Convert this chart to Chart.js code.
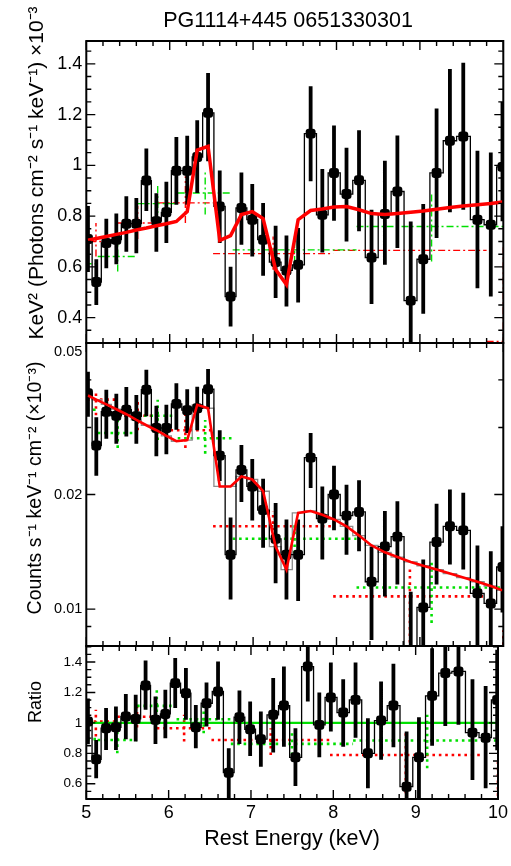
<!DOCTYPE html>
<html><head><meta charset="utf-8">
<script src="https://cdn.jsdelivr.net/npm/chart.js@4.4.0/dist/chart.umd.min.js"></script>
<style>
html,body{margin:0;padding:0;background:#fff;width:511px;height:866px;overflow:hidden;position:relative;}
canvas{position:absolute;left:0;}
</style></head><body>
<canvas id="c1" width="511" height="370" style="top:0px"></canvas>
<canvas id="c2" width="511" height="360" style="top:310px"></canvas>
<canvas id="c3" width="511" height="246" style="top:620px"></canvas>
<script>
// ---------- data ----------
const energy = [5.02,5.12,5.24,5.36,5.48,5.60,5.72,5.84,5.96,6.08,6.21,6.33,6.46,6.60,6.73,6.86,6.99,7.12,7.27,7.40,7.54,7.69,7.83,7.97,8.12,8.27,8.42,8.58,8.73,8.89,9.04,9.20,9.36,9.52,9.69,9.85,9.99];

const xTicks = [5,6,7,8,9,10];
const topYTicks = [0.4,0.6,0.8,1,1.2,1.4];
const midYTicks = [0.01,0.02,0.05];
const ratioYTicks = [0.6,0.8,1,1.2,1.4];

// top panel: unfolded E^2 f(E) (x1e-3)
const topVal = [0.71,0.54,0.694,0.707,0.77,0.77,0.94,0.78,0.815,0.979,0.979,1.033,1.207,0.838,0.483,0.832,0.786,0.707,0.619,0.586,0.608,1.125,0.805,0.97,0.887,0.941,0.637,0.808,0.897,0.467,0.63,0.97,1.097,1.114,0.786,0.766,0.994];
const topLo  = [0.58,0.45,0.595,0.61,0.66,0.654,0.82,0.66,0.694,0.845,0.845,0.891,1.016,0.694,0.365,0.687,0.641,0.565,0.477,0.444,0.46,0.937,0.657,0.782,0.70,0.74,0.454,0.608,0.674,0.25,0.415,0.714,0.815,0.825,0.516,0.483,0.78];
const topHi  = [0.84,0.63,0.79,0.81,0.878,0.871,1.066,0.89,0.935,1.112,1.117,1.178,1.364,0.98,0.60,0.972,0.927,0.852,0.762,0.724,0.753,1.312,0.986,1.157,1.069,1.138,0.825,1.018,1.118,0.779,0.848,1.224,1.38,1.404,1.058,1.051,1.25];
const topModel = [0.705,0.712,0.72,0.728,0.736,0.745,0.753,0.762,0.77,0.779,0.818,1.06,1.075,0.704,0.723,0.806,0.818,0.79,0.59,0.53,0.786,0.822,0.828,0.836,0.838,0.825,0.81,0.806,0.81,0.815,0.82,0.827,0.834,0.84,0.845,0.85,0.856];

// middle panel: counts
const midVal = [0.0369,0.0269,0.033,0.0322,0.0334,0.0321,0.0377,0.0299,0.0299,0.0346,0.0333,0.0337,0.0378,0.0253,0.0139,0.0232,0.021,0.0182,0.0153,0.0139,0.0139,0.025,0.0173,0.02,0.0176,0.018,0.0118,0.0146,0.0155,0.0076,0.0101,0.015,0.0165,0.0161,0.011,0.01035,0.0129];
const midLo  = [0.032,0.0224,0.028,0.0272,0.0284,0.0272,0.0321,0.0252,0.0255,0.0296,0.029,0.0295,0.0335,0.0217,0.0106,0.0191,0.0171,0.0145,0.0117,0.0106,0.0105,0.0208,0.0135,0.0161,0.0139,0.0142,0.0083,0.0108,0.0116,0.004,0.007,0.0116,0.0131,0.0127,0.0075,0.0068,0.0098];
const midHi  = [0.042,0.0319,0.0377,0.0368,0.0383,0.0365,0.0425,0.0342,0.0344,0.0392,0.0378,0.0384,0.0427,0.0295,0.0174,0.027,0.0248,0.022,0.019,0.0172,0.0172,0.029,0.021,0.0238,0.0212,0.0218,0.0146,0.0181,0.0192,0.0111,0.0135,0.0189,0.0206,0.0202,0.0147,0.0142,0.0165];
const midModel = [0.0364,0.0355,0.0345,0.0335,0.0325,0.0314,0.0304,0.0295,0.0285,0.0276,0.0278,0.0344,0.0337,0.021,0.021,0.0223,0.0219,0.0204,0.0146,0.0127,0.0179,0.0181,0.0177,0.0172,0.0165,0.0156,0.0147,0.0141,0.0137,0.0133,0.013,0.0127,0.0124,0.0121,0.0118,0.0115,0.0112];

// bottom panel: ratio
const ratioVal = [1.009,0.761,0.965,0.971,1.042,1.026,1.246,1.02,1.059,1.261,1.195,0.971,1.129,1.206,0.673,1.037,0.958,0.893,1.053,1.114,0.774,1.37,0.987,1.167,1.068,1.151,0.8,1.015,1.114,0.581,0.774,1.178,1.327,1.338,0.936,0.903,1.151];
const ratioLo  = [0.86,0.636,0.822,0.822,0.893,0.877,1.086,0.862,0.899,1.097,1.02,0.834,0.976,1.02,0.49,0.862,0.783,0.712,0.805,0.844,0.586,1.14,0.774,0.943,0.844,0.903,0.57,0.757,0.84,0.3,0.45,0.849,0.98,0.987,0.625,0.57,0.82];
const ratioHi  = [1.16,0.888,1.097,1.107,1.19,1.184,1.41,1.173,1.217,1.426,1.36,1.118,1.265,1.403,0.833,1.213,1.14,1.074,1.294,1.37,0.965,1.62,1.2,1.397,1.287,1.397,1.031,1.272,1.388,0.943,1.037,1.49,1.62,1.62,1.287,1.243,1.48];
const ratioUnity = [1, 1];

// second data set (green), broad bins
const greenEdges = [4.62,5.137,5.616,6.096,6.755,8.24,10.04];
const greenTop   = [0.612,0.641,0.849,0.891,0.667,0.759];
const greenTopLo = [0.55,0.582,0.773,0.806,0.615,0.621];
const greenTopHi = [0.68,0.70,0.93,0.976,0.733,0.891];
const greenMid   = [0.0334,0.029,0.0322,0.0281,0.0153,0.0114];
const greenMidLo = [0.030,0.0265,0.0278,0.0256,0.014,0.0092];
const greenMidHi = [0.037,0.0315,0.0355,0.0314,0.0166,0.0135];
const greenRatio   = [0.893,0.888,1.112,1.024,0.862,0.884];
const greenRatioLo = [0.80,0.80,0.987,0.932,0.789,0.702];
const greenRatioHi = [0.99,0.987,1.217,1.118,0.954,1.053];

// third data set (red), broad bins
const redEdges = [4.856,5.376,5.856,6.52,7.96,9.80,10.2];
const redTop   = [0.70,0.773,0.852,0.652,0.665,0.306];
const redTopLo = [0.641,0.71,0.773,0.589,0.25,0.0];
const redTopHi = [0.773,0.84,0.957,0.72,0.779,0.687];
const redMid   = [0.0355,0.0322,0.0295,0.0165,0.0108,0.004];
const redMidLo = [0.0323,0.0295,0.0265,0.0149,0.007,0.002];
const redMidHi = [0.0377,0.035,0.033,0.0181,0.013,0.0088];
const redRatio   = [1.009,1.04,0.965,0.888,0.789,0.36];
const redRatioLo = [0.91,0.97,0.877,0.789,0.537,0.1];
const redRatioHi = [1.086,1.11,1.053,0.965,0.943,0.745];

// ---------- helpers building library tables from the arrays ----------
const FONT = "'Liberation Sans', Arial, Helvetica, sans-serif";
const GREEN = '#00e000', RED = '#ff0000';

function segPairs(xa, xb, ya, yb) {
  const d = [];
  for (let i = 0; i < xa.length; i++) {
    d.push({x: xa[i], y: ya[i]}, {x: xb[i], y: yb[i]}, {x: xb[i], y: null});
  }
  return d;
}
function stepData(xc, v) {
  const d = [];
  for (let i = 0; i < xc.length; i++) {
    const lo = i === 0 ? xc[0] - (xc[1] - xc[0]) / 2 : (xc[i - 1] + xc[i]) / 2;
    const hi = i === xc.length - 1 ? xc[i] + (xc[i] - xc[i - 1]) / 2 : (xc[i] + xc[i + 1]) / 2;
    d.push({x: lo, y: v[i]}, {x: hi, y: v[i]});
  }
  return d;
}
const centers = e => e.slice(0, -1).map((v, i) => (v + e[i + 1]) / 2);
const crossH = (e, v) => segPairs(e.slice(0, -1), e.slice(1), v, v);
const crossV = (e, lo, hi) => { const c = centers(e); return segPairs(c, c, lo, hi); };
const errBars = (x, lo, hi) => segPairs(x, x, lo, hi);
const pts = (x, v) => x.map((e, i) => ({x: e, y: v[i]}));

function lineDS(data, color, width, dash, order) {
  return {data, showLine: true, borderColor: color, backgroundColor: color, borderWidth: width,
    borderDash: dash || [], pointRadius: 0, pointHoverRadius: 0, spanGaps: false, tension: 0,
    order, borderCapStyle: 'butt', borderJoinStyle: 'miter'};
}
function markerDS(data, order) {
  return {data, showLine: false, pointRadius: 5.8, pointHoverRadius: 5.8, pointStyle: 'rectRounded',
    pointBackgroundColor: '#000', pointBorderWidth: 0, borderColor: '#000', order};
}
function crossSets(edges, v, lo, hi, color, dash, w) {
  return [lineDS(crossH(edges, v), color, w, dash, 6), lineDS(crossV(edges, lo, hi), color, w, dash, 6)];
}

function linMinors(majors, min, max, sub) {
  const step = (majors[1] - majors[0]) / sub, out = [];
  for (let k = Math.ceil(min / step - 1e-6); k * step <= max + 1e-9; k++) {
    const v = k * step;
    if (!majors.some(m => Math.abs(m - v) < 1e-6)) out.push(v);
  }
  return out;
}
function logMinors(majors, min, max) {
  const out = [];
  for (let n = Math.floor(Math.log10(min)); n <= Math.ceil(Math.log10(max)); n++) {
    for (let k = 1; k < 10; k++) {
      const v = k * Math.pow(10, n);
      if (v >= min * 0.999 && v <= max * 1.001 && !majors.some(m => Math.abs(m - v) / m < 1e-6)) out.push(v);
    }
  }
  return out;
}

const framePlugin = {
  id: 'frame',
  afterDatasetsDraw(chart, args, o) {
    const {ctx, chartArea: a} = chart;
    const xs = chart.scales.x, ys = chart.scales.y;
    const MA = 9, MI = 5;
    ctx.save();
    ctx.strokeStyle = '#000';
    ctx.lineWidth = 1.4;
    ctx.beginPath();
    const xMin = linMinors(xTicks, xs.min, xs.max, 5);
    const tickX = (v, len) => { const p = xs.getPixelForValue(v); ctx.moveTo(p, a.top); ctx.lineTo(p, a.top + len); ctx.moveTo(p, a.bottom); ctx.lineTo(p, a.bottom - len); };
    xTicks.forEach(v => tickX(v, MA));
    xMin.forEach(v => tickX(v, MI));
    const yMaj = o.yTicks;
    const yMin = o.log ? logMinors(yMaj, ys.min, ys.max) : linMinors(yMaj, ys.min, ys.max, 4);
    const tickY = (v, len) => { const p = ys.getPixelForValue(v); ctx.moveTo(a.left, p); ctx.lineTo(a.left + len, p); ctx.moveTo(a.right, p); ctx.lineTo(a.right - len, p); };
    yMaj.forEach(v => tickY(v, MA));
    yMin.forEach(v => tickY(v, MI));
    ctx.stroke();
    ctx.lineWidth = 2;
    ctx.strokeRect(a.left, a.top, a.right - a.left, a.bottom - a.top);
    ctx.restore();
  }
};
const textPlugin = {
  id: 'texts',
  afterDraw(chart, args, o) {
    const ctx = chart.ctx;
    (o.items || []).forEach(t => {
      ctx.save();
      ctx.fillStyle = '#000';
      ctx.font = t.size + 'px ' + FONT;
      ctx.textAlign = 'center';
      ctx.textBaseline = 'middle';
      ctx.translate(t.x, t.y);
      if (t.rot) ctx.rotate(-Math.PI / 2);
      ctx.fillText(t.text, 0, 0);
      ctx.restore();
    });
  }
};

function yScale(type, min, max, ticksArr, size, shiftTop) {
  return {
    type, min, max,
    afterBuildTicks: s => { s.ticks = ticksArr.map(v => ({value: v})); },
    afterFit: s => { s.width = 86.3; },
    ticks: {font: {family: FONT, size}, color: '#000', padding: 4, autoSkip: false,
      callback: (v, i, t) => (shiftTop && i === t.length - 1) ? ['', String(v)] : String(v)},
    grid: {display: false, drawTicks: false},
    border: {display: false}
  };
}
const hiddenX = {type: 'linear', min: 5, max: 10, display: false};

function makeChart(id, datasets, y, x, pad, frameOpts, texts) {
  return new Chart(document.getElementById(id), {
    type: 'scatter',
    data: {datasets},
    options: {
      responsive: false, animation: false, devicePixelRatio: 1,
      layout: {padding: pad},
      scales: {x, y},
      plugins: {legend: {display: false}, tooltip: {enabled: false},
        frame: frameOpts, texts: {items: texts}}
    },
    plugins: [framePlugin, textPlugin]
  });
}

const DASHDOT = [7, 3, 2, 3];
const DOT = [2.6, 3.8];

// ---------- top panel (plot area 41..343) ----------
makeChart('c1', [
  lineDS(pts(energy, topModel), RED, 3.5, [], 0),
  markerDS(pts(energy, topVal), 1),
  lineDS(errBars(energy, topLo, topHi), '#000', 3.8, [], 2),
  lineDS(stepData(energy, topVal), '#000', 1.3, [], 3),
  ...crossSets(greenEdges, greenTop, greenTopLo, greenTopHi, GREEN, DASHDOT, 1.4),
  ...crossSets(redEdges, redTop, redTopLo, redTopHi, RED, DASHDOT, 1.4)
], yScale('linear', 0.3, 1.49, topYTicks, 18, false), hiddenX,
  {left: 0, right: 7.7, top: 41, bottom: 27}, {yTicks: topYTicks, log: false},
  [{text: 'PG1114+445 0651330301', x: 288, y: 21, size: 21.5},
   {text: 'KeV\u00B2 (Photons cm\u207B\u00B2 s\u207B\u00B9 keV\u207B\u00B9) \u00D710\u207B\u00B3', x: 37, y: 173, size: 21, rot: true}]);

// ---------- middle panel (plot area 343..646) ----------
makeChart('c2', [
  lineDS(pts(energy, midModel), RED, 2.6, [], 0),
  markerDS(pts(energy, midVal), 1),
  lineDS(errBars(energy, midLo, midHi), '#000', 3.8, [], 2),
  lineDS(stepData(energy, midVal), '#000', 1.3, [], 3),
  lineDS(stepData(energy, midModel), '#8c8c8c', 1.3, [], 4),
  ...crossSets(greenEdges, greenMid, greenMidLo, greenMidHi, GREEN, DOT, 2.6),
  ...crossSets(redEdges, redMid, redMidLo, redMidHi, RED, DOT, 2.6)
], yScale('logarithmic', 0.008, 0.05, midYTicks, 14.5, true), hiddenX,
  {left: 0, right: 7.7, top: 33, bottom: 24}, {yTicks: midYTicks, log: true},
  [{text: 'Counts s\u207B\u00B9 keV\u207B\u00B9 cm\u207B\u00B2 (\u00D710\u207B\u00B3)', x: 35.5, y: 178, size: 19.5, rot: true}]);

// ---------- bottom panel (plot area 646..799) ----------
makeChart('c3', [
  markerDS(pts(energy, ratioVal), 1),
  lineDS(errBars(energy, ratioLo, ratioHi), '#000', 3.8, [], 2),
  lineDS(stepData(energy, ratioVal), '#000', 1.3, [], 3),
  lineDS(pts([xTicks[0], xTicks[xTicks.length - 1]], ratioUnity), GREEN, 2.4, [], 5),
  ...crossSets(greenEdges, greenRatio, greenRatioLo, greenRatioHi, GREEN, DOT, 2.6),
  ...crossSets(redEdges, redRatio, redRatioLo, redRatioHi, RED, DOT, 2.6)
], yScale('linear', 0.5, 1.505, ratioYTicks, 13.5, false),
  {type: 'linear', min: 5, max: 10,
   afterBuildTicks: s => { s.ticks = xTicks.map(v => ({value: v})); },
   afterFit: s => { s.height = 67; },
   ticks: {font: {family: FONT, size: 18}, color: '#000', padding: 3, maxRotation: 0, autoSkip: false,
     callback: v => String(v)},
   grid: {display: false, drawTicks: false}, border: {display: false},
   title: {display: true, text: 'Rest Energy (keV)', color: '#000', font: {family: FONT, size: 21.5},
     padding: {top: 14, bottom: 14}}},
  {left: 0, right: 7.7, top: 26, bottom: 0}, {yTicks: ratioYTicks, log: false},
  [{text: 'Ratio', x: 36, y: 82, size: 18, rot: true}]);
</script>
</body></html>
